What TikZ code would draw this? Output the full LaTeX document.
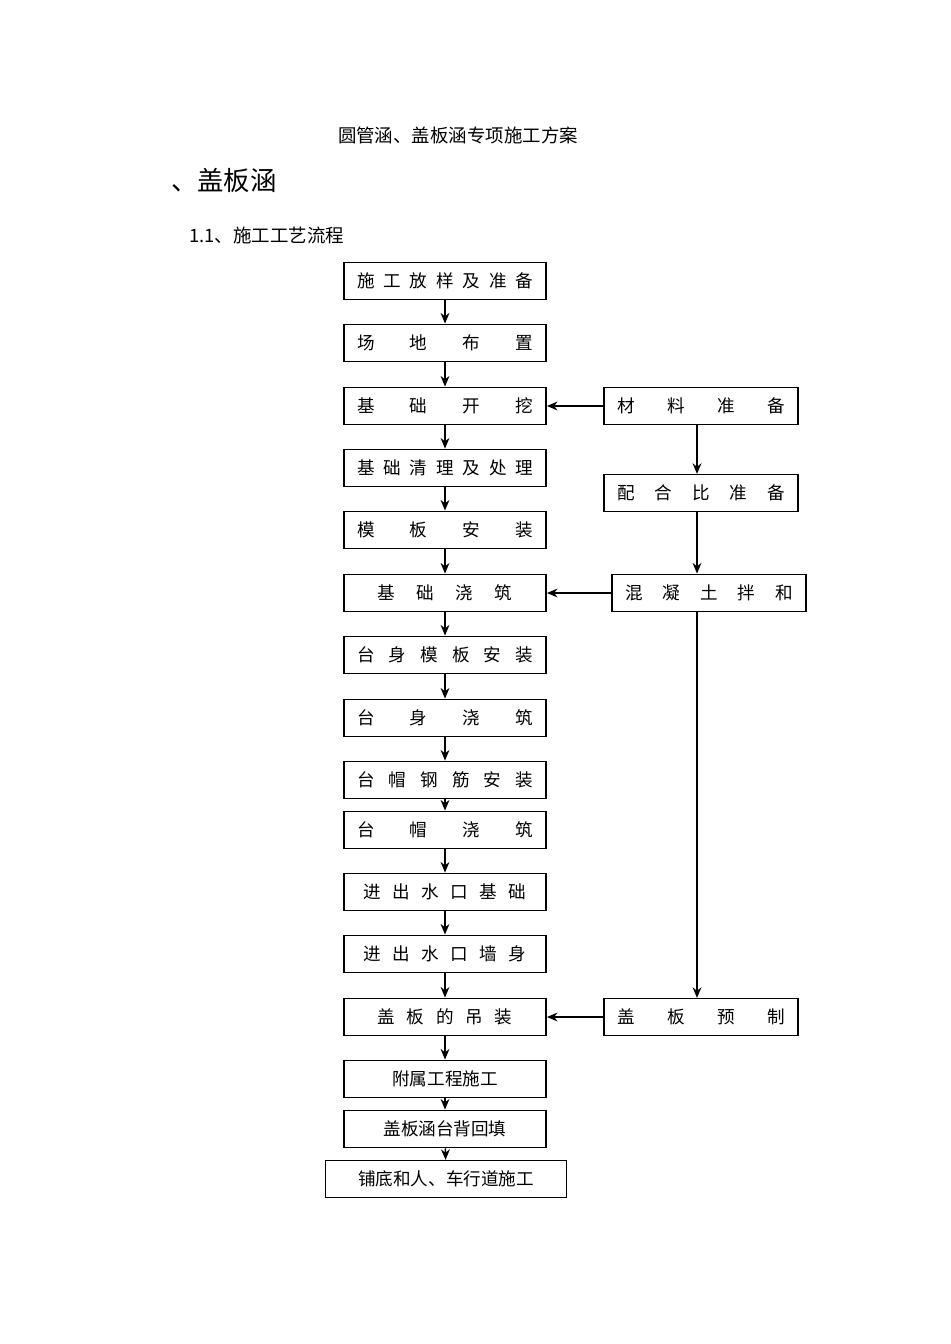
\documentclass[tikz,border=0pt]{standalone}
\usepackage{fontspec}
\setmainfont{Noto Sans CJK SC}
\usetikzlibrary{arrows.meta}
\newcommand{\spr}[2]{\makebox[#1][s]{#2}}
\begin{document}
\begin{tikzpicture}[x=0.02cm,y=-0.02cm,
  box/.style={draw,line width=1.1pt,minimum height=0.74cm,inner sep=0pt,font=\fontsize{10pt}{12pt}\selectfont},
  L/.style={box,minimum width=4.04cm},
  R/.style={box,line width=0.7pt,minimum width=3.88cm},
  arr/.style={-{Stealth[length=6pt,width=5pt]},line width=0.9pt}]
\useasboundingbox (0,0) rectangle (950,1344);
\node[font=\fontsize{10.5pt}{12pt}\selectfont] (t) at (458,135) {圆管涵、盖板涵专项施工方案};
\node[anchor=west,font=\fontsize{15pt}{18pt}\selectfont] (h) at (165,180) {、盖板涵};
\node[anchor=west,font=\fontsize{10.5pt}{12pt}\selectfont] (s) at (183,235) {1.1、施工工艺流程};
\node[L] (b1) at (445,281) {\spr{3.52cm}{施\hfill 工\hfill 放\hfill 样\hfill 及\hfill 准\hfill 备}};
\node[L] (b2) at (445,343) {\spr{3.52cm}{场\hfill 地\hfill 布\hfill 置}};
\node[L] (b3) at (445,406) {\spr{3.52cm}{基\hfill 础\hfill 开\hfill 挖}};
\node[L] (b4) at (445,468) {\spr{3.52cm}{基\hfill 础\hfill 清\hfill 理\hfill 及\hfill 处\hfill 理}};
\node[L] (b5) at (445,530) {\spr{3.52cm}{模\hfill 板\hfill 安\hfill 装}};
\node[L] (b6) at (445,593) {\spr{2.7cm}{基\hfill 础\hfill 浇\hfill 筑}};
\node[L] (b7) at (445,655) {\spr{3.52cm}{台\hfill 身\hfill 模\hfill 板\hfill 安\hfill 装}};
\node[L] (b8) at (445,718) {\spr{3.52cm}{台\hfill 身\hfill 浇\hfill 筑}};
\node[L] (b9) at (445,780) {\spr{3.52cm}{台\hfill 帽\hfill 钢\hfill 筋\hfill 安\hfill 装}};
\node[L] (b10) at (445,830) {\spr{3.52cm}{台\hfill 帽\hfill 浇\hfill 筑}};
\node[L] (b11) at (445,892) {\spr{3.26cm}{进\hfill 出\hfill 水\hfill 口\hfill 基\hfill 础}};
\node[L] (b12) at (445,954) {\spr{3.26cm}{进\hfill 出\hfill 水\hfill 口\hfill 墙\hfill 身}};
\node[L] (b13) at (445,1017) {\spr{2.7cm}{盖\hfill 板\hfill 的\hfill 吊\hfill 装}};
\node[L] (b14) at (445,1079) {附属工程施工};
\node[L] (b15) at (445,1129) {盖板涵台背回填};
\node[L,line width=0.7pt,minimum width=4.82cm] (b16) at (446,1179) {铺底和人、车行道施工};
\node[R] (r1) at (701,406) {\spr{3.36cm}{材\hfill 料\hfill 准\hfill 备}};
\node[R] (r2) at (701,493) {\spr{3.36cm}{配\hfill 合\hfill 比\hfill 准\hfill 备}};
\node[R,line width=1.1pt] (r3) at (709,593) {\spr{3.36cm}{混\hfill 凝\hfill 土\hfill 拌\hfill 和}};
\node[R] (r4) at (701,1017) {\spr{3.36cm}{盖\hfill 板\hfill 预\hfill 制}};
\foreach \a/\b in {b1/b2,b2/b3,b3/b4,b4/b5,b5/b6,b6/b7,b7/b8,b8/b9,b9/b10,b10/b11,b11/b12,b12/b13,b13/b14,b14/b15,b15/b16}
  \draw[arr] (\a) -- (\b);
\draw[arr] (r1) -- (b3);
\draw[arr] (r3) -- (b6);
\draw[arr] (r4) -- (b13);
\draw[arr] (r1.south -| 697,0) -- (r2.north -| 697,0);
\draw[arr] (r2.south -| 697,0) -- (r3.north -| 697,0);
\draw[arr] (r3.south -| 697,0) -- (r4.north -| 697,0);
\end{tikzpicture}
\end{document}
